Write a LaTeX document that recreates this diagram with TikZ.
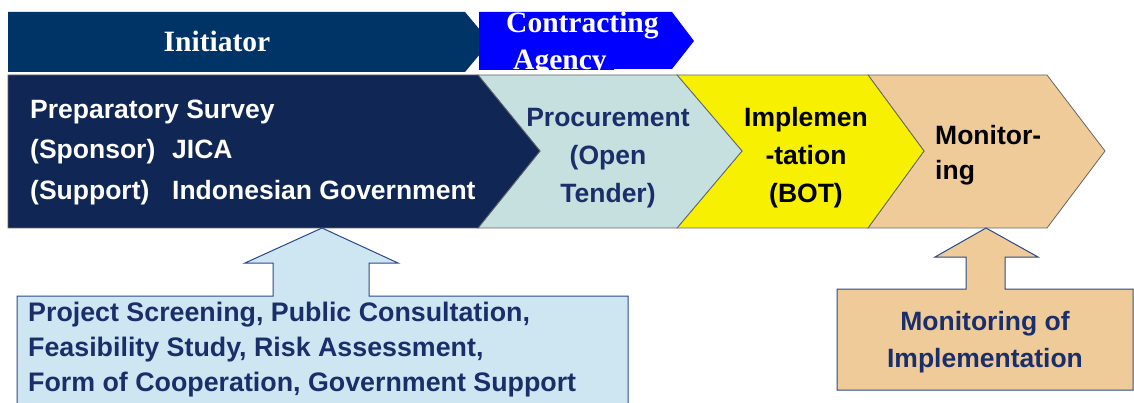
\documentclass[tikz,border=0pt]{standalone}
\usepackage{fontspec}
\setmainfont{Liberation Serif}
\setsansfont{Liberation Sans}
\definecolor{navymain}{HTML}{102654}
\definecolor{navytop}{HTML}{003366}
\definecolor{agencyblue}{HTML}{0000FF}
\definecolor{tenderfill}{HTML}{C6DFDF}
\definecolor{botyellow}{HTML}{F7F000}
\definecolor{tanfill}{HTML}{EFCB99}
\definecolor{studyfill}{HTML}{CDE6F2}
\definecolor{boxline}{HTML}{2B4A8B}
\definecolor{textnavy}{HTML}{1A2F6A}

\begin{document}
\begin{tikzpicture}[x=1pt, y=-1pt,
stage/.style={draw=black!60, line width=0.8pt},
support/.style={draw=boxline, line width=1pt},
headtext/.style={font=\rmfamily\bfseries\fontsize{29.5}{35}\selectfont, text=white, inner sep=0pt},
stagetext/.style={font=\sffamily\bfseries\fontsize{26.5}{38}\selectfont, text=textnavy, inner sep=0pt},
]
\useasboundingbox (0,0) rectangle (1134,403);
\clip (0,0) rectangle (1134,403);

%Roles
\fill[navytop] (8,12) -- (465,12) -- (490,42) -- (465,72) -- (8,72) -- cycle;
\fill[agencyblue] (479,12) -- (672,12) -- (694,41) -- (672,69) -- (614,69) -- (614,70) -- (479,70) -- cycle;
\node[headtext] (initiator) at (217,41) {Initiator};
\node[headtext, anchor=base west] (contracting) at (506,33) {Contracting};
\begin{scope}
\clip (479,12) rectangle (672,70);
\node[headtext, anchor=base west] (agency) at (513,70) {Agency};
\end{scope}

%Stages
\filldraw[stage, fill=tanfill] (868,75) -- (1047,75) -- (1105,151) -- (1047,228) -- (868,228) -- (924,151) -- cycle;
\filldraw[stage, fill=botyellow] (677,75) -- (868,75) -- (924,151) -- (868,228) -- (677,228) -- (742,151) -- cycle;
\filldraw[stage, fill=tenderfill] (478,75) -- (677,75) -- (742,151) -- (677,228) -- (478,228) -- (540,151) -- cycle;
\filldraw[stage, fill=navymain] (8,75) -- (478,75) -- (540,151) -- (478,228) -- (8,228) -- cycle;

\node[stagetext, text=white, align=left, anchor=west, font=\sffamily\bfseries\fontsize{26.5}{40.5}\selectfont] (survey) at (30,152)
  {Preparatory Survey\\\makebox[142pt][l]{(Sponsor)}JICA\\\makebox[142pt][l]{(Support)}Indonesian Government};
\node[stagetext, align=center] (procurement) at (608,158) {Procurement\\(Open\\Tender)};
\node[stagetext, align=center, text=black] (implementation) at (806,158) {Implemen\\-tation\\(BOT)};
\node[stagetext, align=left, anchor=west, text=black, font=\sffamily\bfseries\fontsize{26.5}{35}\selectfont] (monitoring) at (935,155) {Monitor-\\ing};

%Support boxes
\filldraw[support, fill=studyfill] (17,296) -- (273,296) -- (273,263) -- (245,263) -- (322,228) -- (398,263)
  -- (369,263) -- (369,296) -- (628,296) -- (628,420) -- (17,420) -- cycle;
\filldraw[support, fill=tanfill] (837,289) -- (966,289) -- (966,257) -- (935,257) -- (986,228) -- (1038,257)
  -- (1005,257) -- (1005,289) -- (1133,289) -- (1133,390) -- (837,390) -- cycle;

\node[stagetext, align=left, anchor=west, font=\sffamily\bfseries\fontsize{26.8}{35}\selectfont] (studies) at (28,350)
  {Project Screening, Public Consultation,\\Feasibility Study, Risk Assessment,\\Form of Cooperation, Government Support};
\node[stagetext, align=center, font=\sffamily\bfseries\fontsize{26.5}{37}\selectfont] (monitorimpl) at (985,342) {Monitoring of\\Implementation};
\end{tikzpicture}
\end{document}
